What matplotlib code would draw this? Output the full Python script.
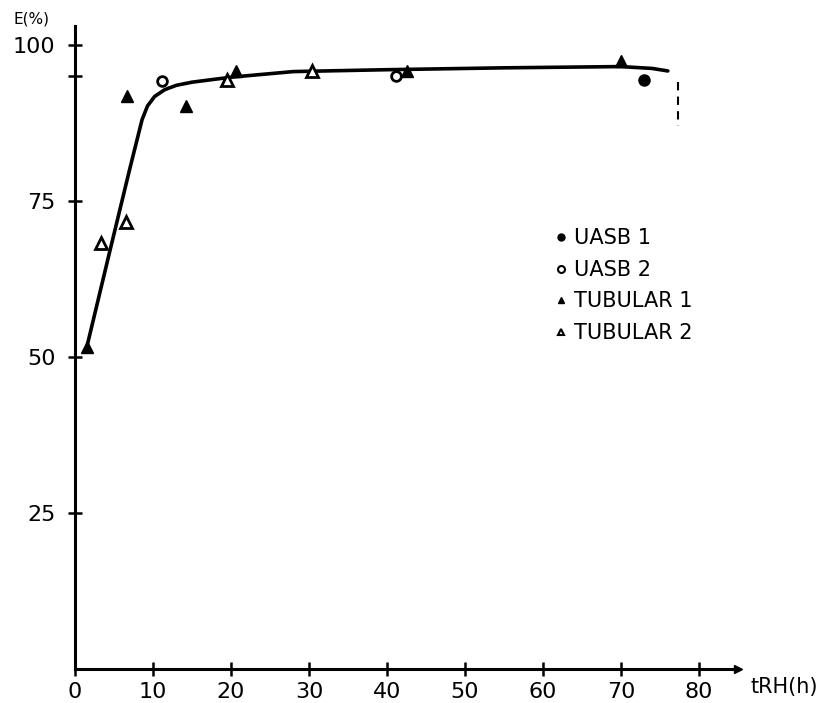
import matplotlib
matplotlib.use('Agg')
import matplotlib.pyplot as plt
from matplotlib.lines import Line2D

# points
uasb1_x = [73.0]
uasb1_y = [94.4]
uasb2_x = [11.2, 41.2]
uasb2_y = [94.2, 95.0]
tub1_x = [1.5, 6.7, 14.2, 20.6, 42.6, 70.0]
tub1_y = [51.6, 91.8, 90.2, 95.8, 95.8, 97.4]
tub2_x = [3.3, 6.5, 19.5, 30.4]
tub2_y = [68.3, 71.6, 94.4, 95.8]

# hand drawn fitted curve
curve_x = [1.5, 4.4, 7.0, 7.9, 8.6, 9.3, 10.2, 11.5, 13, 15, 20, 28, 40, 55, 70, 74, 76]
curve_y = [51.5, 66.6, 80.0, 84.5, 88.0, 90.2, 91.7, 92.8, 93.5, 94.0, 94.8, 95.7, 96.0, 96.3, 96.5, 96.2, 95.8]

# short dashed mark at the end of the curve
mark_x = [77.3, 77.3]
mark_y = [94.0, 87.0]

xticks = [0, 10, 20, 30, 40, 50, 60, 70, 80]
yticks = [25, 50, 75, 100]

plt.rcParams['font.family'] = ['DejaVu Sans']

fig = plt.figure(figsize=(8.3, 7.03), dpi=100)
ax = fig.add_axes([75 / 830, 34 / 703, 663 / 830, 643 / 703])
ax.set_xlim(0, 85)
ax.set_ylim(0, 103)

ax.plot(curve_x, curve_y, color='black', lw=2.6, solid_capstyle='round',
        solid_joinstyle='round', zorder=2)
ax.plot(mark_x, mark_y, color='black', lw=1.5, ls=(0, (4, 3)))

ax.plot(uasb1_x, uasb1_y, 'o', color='black', ms=8, zorder=3)
ax.plot(uasb2_x, uasb2_y, 'o', mfc='white', mec='black', mew=2, ms=7, zorder=3)
ax.plot(tub1_x, tub1_y, '^', color='black', ms=8, zorder=3)
ax.plot(tub2_x, tub2_y, '^', mfc='white', mec='black', mew=2, ms=8, zorder=3)

for s in ['top', 'right']:
    ax.spines[s].set_visible(False)
for s in ['left', 'bottom']:
    ax.spines[s].set_linewidth(2.2)
ax.plot(1, 0, '>', color='black', ms=6, transform=ax.transAxes, clip_on=False)

ax.set_xticks(xticks)
ax.set_yticks(yticks)
ax.set_yticks([95], minor=True)
ax.tick_params(axis='both', direction='inout', length=10, width=1.8, labelsize=16)
ax.tick_params(axis='y', which='minor', direction='inout', length=10, width=1.8)
ax.tick_params(axis='y', pad=9)
ax.tick_params(axis='x', pad=4)

fig.text(13 / 830, 1 - 19 / 703, 'E(%)', fontsize=11, va='center', ha='left')
fig.text(750 / 830, 1 - 687 / 703, 'tRH(h)', fontsize=15, va='center', ha='left')

handles = [
    Line2D([], [], ls='', marker='o', color='black', ms=5),
    Line2D([], [], ls='', marker='o', mfc='white', mec='black', mew=1.5, ms=5),
    Line2D([], [], ls='', marker='^', color='black', ms=5),
    Line2D([], [], ls='', marker='^', mfc='white', mec='black', mew=1.5, ms=5),
]
labels = ['UASB 1', 'UASB 2', 'TUBULAR 1', 'TUBULAR 2']
ax.legend(handles, labels, loc='upper left', bbox_to_anchor=(544 / 830, 1 - 218 / 703),
          bbox_transform=fig.transFigure, frameon=False, fontsize=15,
          handlelength=0.6, handletextpad=0.35, labelspacing=0.55, borderpad=0)

fig.savefig('out.png', dpi=100)
